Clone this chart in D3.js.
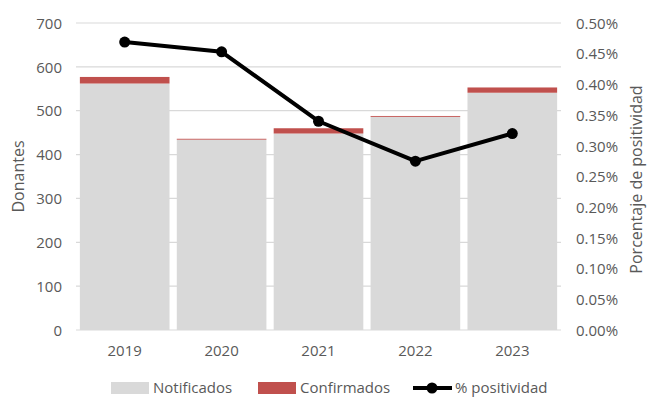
<!DOCTYPE html>
<html>
<head>
<meta charset="utf-8">
<script src="https://cdn.jsdelivr.net/npm/d3@7"></script>
<style>
  body { margin: 0; background: #fff; }
  text { font-family: "Open Sans", sans-serif; fill: #595959; }
</style>
</head>
<body>
<svg id="chart"></svg>
<script>
// Data
const years = ["2019", "2020", "2021", "2022", "2023"];
const notificados = [562, 434, 448, 486, 541];
const confirmados = [15, 2, 12, 2, 12];
const positividad = [0.469, 0.453, 0.340, 0.275, 0.320];
const leftTicks = [0, 100, 200, 300, 400, 500, 600, 700];
const rightTicks = [0, 0.05, 0.10, 0.15, 0.20, 0.25, 0.30, 0.35, 0.40, 0.45, 0.50];

const width = 648, height = 398;
const margin = { top: 23, right: 87, bottom: 68, left: 76 };

const svg = d3.select("#chart")
  .attr("width", width)
  .attr("height", height);

const x = d3.scaleBand()
  .domain(years)
  .range([margin.left, width - margin.right])
  .paddingInner(0.075)
  .paddingOuter(0.04);

const y = d3.scaleLinear().domain([0, 700]).range([height - margin.bottom, margin.top]);
const y2 = d3.scaleLinear().domain([0, 0.5]).range([height - margin.bottom, margin.top]);

// gridlines
svg.append("g")
  .selectAll("line")
  .data(leftTicks)
  .join("line")
  .attr("x1", margin.left)
  .attr("x2", width - margin.right)
  .attr("y1", d => y(d))
  .attr("y2", d => y(d))
  .attr("stroke", "#d9d9d9")
  .attr("stroke-width", 1.2);

// stacked bars
const bars = svg.append("g");
bars.selectAll("rect.notif")
  .data(years)
  .join("rect")
  .attr("class", "notif")
  .attr("x", d => x(d))
  .attr("width", x.bandwidth())
  .attr("y", (d, i) => y(notificados[i]))
  .attr("height", (d, i) => y(0) - y(notificados[i]))
  .attr("fill", "#d9d9d9");

bars.selectAll("rect.conf")
  .data(years)
  .join("rect")
  .attr("class", "conf")
  .attr("x", d => x(d))
  .attr("width", x.bandwidth())
  .attr("y", (d, i) => y(notificados[i] + confirmados[i]))
  .attr("height", (d, i) => y(notificados[i]) - y(notificados[i] + confirmados[i]))
  .attr("fill", "#c0504d");

// left axis
const leftAxis = svg.append("g")
  .attr("transform", `translate(${margin.left - 14},0)`)
  .call(d3.axisLeft(y).tickValues(leftTicks).tickSize(0).tickPadding(0));
leftAxis.select(".domain").remove();
leftAxis.selectAll("text").style("font-size", "15px").attr("fill", "#595959").attr("dy", "0.35em");

// right axis
const rightAxis = svg.append("g")
  .attr("transform", `translate(${width - margin.right + 15},0)`)
  .call(d3.axisRight(y2).tickValues(rightTicks).tickSize(0).tickPadding(0)
    .tickFormat(d => d.toFixed(2) + "%"));
rightAxis.select(".domain").remove();
rightAxis.selectAll("text").style("font-size", "15px").attr("fill", "#595959").attr("dy", "0.35em");

// bottom labels
const bottomAxis = svg.append("g")
  .attr("transform", `translate(0,${height - margin.bottom + 12})`)
  .call(d3.axisBottom(x).tickSize(0).tickPadding(0));
bottomAxis.select(".domain").remove();
bottomAxis.selectAll("text").style("font-size", "15px").attr("fill", "#595959").attr("dy", "0.9em");

// positivity line
const cx = d => x(d) + x.bandwidth() / 2;
svg.append("path")
  .datum(years)
  .attr("fill", "none")
  .attr("stroke", "#000")
  .attr("stroke-width", 4)
  .attr("stroke-linejoin", "round")
  .attr("d", d3.line().x(d => cx(d)).y((d, i) => y2(positividad[i])));

svg.append("g")
  .selectAll("circle")
  .data(years)
  .join("circle")
  .attr("cx", d => cx(d))
  .attr("cy", (d, i) => y2(positividad[i]))
  .attr("r", 5.5)
  .attr("fill", "#000");

// axis titles
svg.append("text")
  .attr("transform", `translate(24,${(y(0) + y(700)) / 2}) rotate(-90)`)
  .attr("text-anchor", "middle")
  .style("font-size", "16px")
  .text("Donantes");

svg.append("text")
  .attr("transform", `translate(642,${(y(0) + y(700)) / 2 + 3}) rotate(-90)`)
  .attr("text-anchor", "middle")
  .style("font-size", "16px")
  .text("Porcentaje de positividad");

// legend
const ly = 388;
const legend = svg.append("g");
legend.append("rect").attr("x", 111).attr("y", ly - 6).attr("width", 38).attr("height", 12).attr("fill", "#d9d9d9");
legend.append("text").attr("x", 153).attr("y", ly).attr("dy", "0.35em").style("font-size", "15px").text("Notificados");
legend.append("rect").attr("x", 258).attr("y", ly - 6).attr("width", 38).attr("height", 12).attr("fill", "#c0504d");
legend.append("text").attr("x", 300).attr("y", ly).attr("dy", "0.35em").style("font-size", "15px").text("Confirmados");
legend.append("line").attr("x1", 413).attr("x2", 452).attr("y1", ly).attr("y2", ly).attr("stroke", "#000").attr("stroke-width", 4);
legend.append("circle").attr("cx", 432).attr("cy", ly).attr("r", 5.5).attr("fill", "#000");
legend.append("text").attr("x", 455).attr("y", ly).attr("dy", "0.35em").style("font-size", "15px").text("% positividad");
</script>
</body>
</html>
